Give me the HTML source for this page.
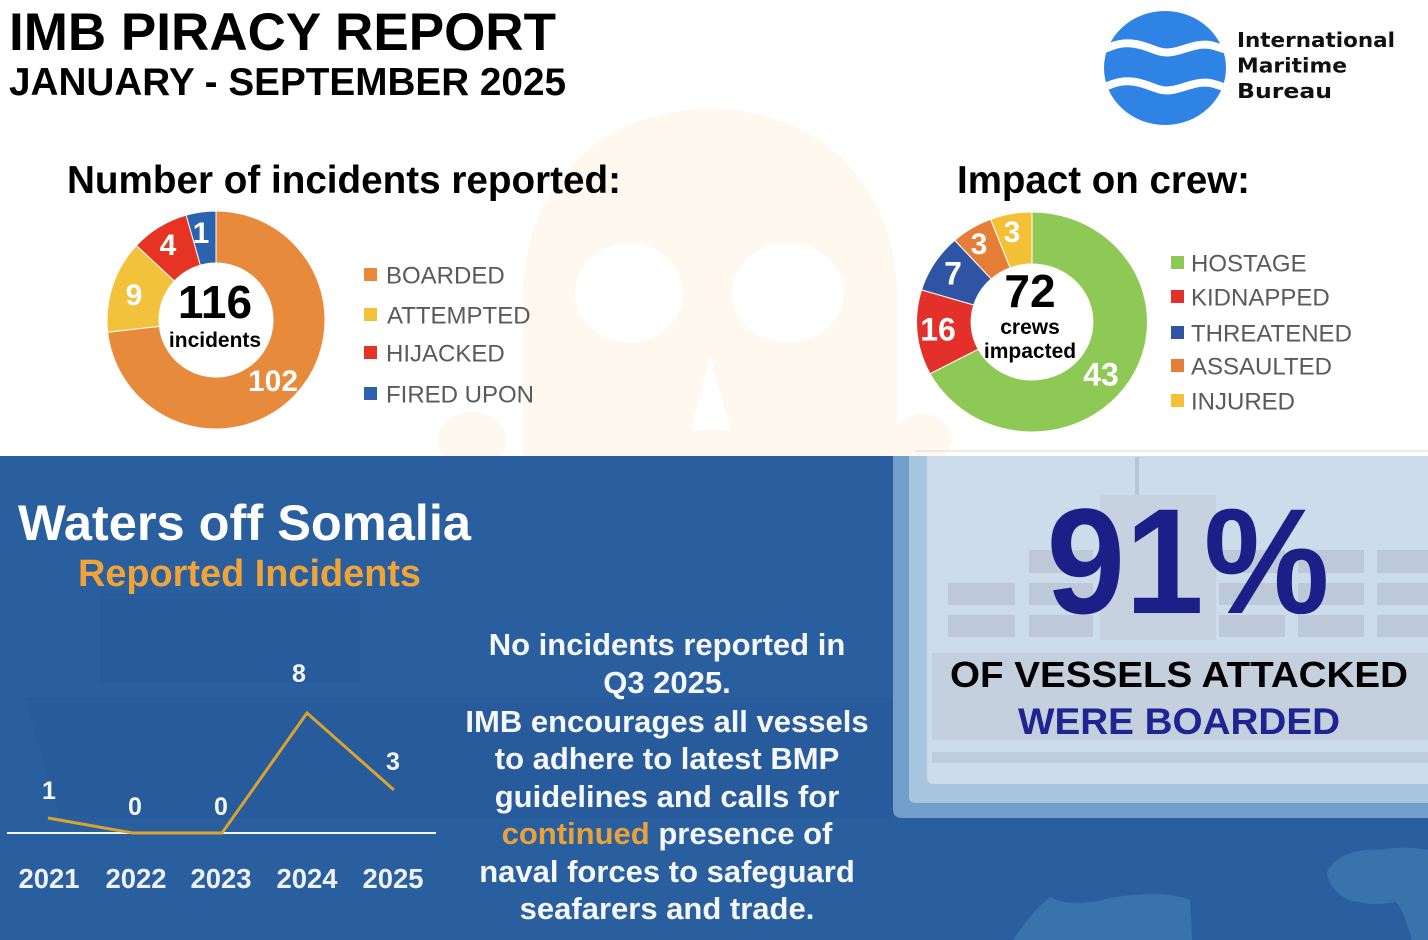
<!DOCTYPE html>
<html><head><meta charset="utf-8"><style>
html,body{margin:0;padding:0;background:#fff;}
svg{display:block;}
text{font-family:"Liberation Sans",Arial,sans-serif;}
</style></head><body>
<svg width="1428" height="940" viewBox="0 0 1428 940" xmlns="http://www.w3.org/2000/svg">
<defs>
<clipPath id="logoClip"><ellipse cx="1165" cy="68" rx="61" ry="57"/></clipPath>
</defs>
<!-- top white -->
<rect x="0" y="0" width="1428" height="456" fill="#ffffff"/>
<!-- skull watermark -->
<g fill="#fef8ef">
<path d="M523,300 C523,175 610,109 710,109 C810,109 897,175 897,300 L897,456 L523,456 Z"/>
<ellipse cx="472" cy="440" rx="34" ry="28"/>
<ellipse cx="922" cy="440" rx="30" ry="26"/>
</g>
<g fill="#ffffff">
<ellipse cx="629" cy="293" rx="54" ry="50"/>
<ellipse cx="788" cy="293" rx="56" ry="50"/>
<path d="M710,356 L731,430 L691,430 Z"/>
</g>
<line x1="915" y1="451" x2="1428" y2="451" stroke="#e6e6e6" stroke-width="1.5"/>

<!-- Title -->
<text x="9" y="50" font-size="53" font-weight="bold" fill="#000" textLength="547" lengthAdjust="spacingAndGlyphs">IMB PIRACY REPORT</text>
<text x="9" y="95" font-size="38.5" font-weight="bold" fill="#000" textLength="557" lengthAdjust="spacingAndGlyphs">JANUARY - SEPTEMBER 2025</text>

<!-- Logo -->
<g clip-path="url(#logoClip)">
<rect x="1100" y="8" width="135" height="125" fill="#2f83e4"/>
<path d="M1098,52 C1115,44 1125,41 1140,45 C1155,49 1160,54 1172,52 C1185,50 1195,43 1210,45 C1220,47 1226,51 1234,51" fill="none" stroke="#fff" stroke-width="8"/>
<path d="M1098,90 C1115,82 1125,79 1140,83 C1155,87 1160,92 1172,90 C1185,88 1195,81 1210,83 C1220,85 1226,89 1234,89" fill="none" stroke="#fff" stroke-width="8"/>
</g>
<g font-weight="bold" font-size="20" fill="#111">
<text x="1237" y="47" textLength="158" lengthAdjust="spacingAndGlyphs" style="font-family:'DejaVu Sans',sans-serif">International</text>
<text x="1237" y="72.5" textLength="110" lengthAdjust="spacingAndGlyphs" style="font-family:'DejaVu Sans',sans-serif">Maritime</text>
<text x="1237" y="98" textLength="95" lengthAdjust="spacingAndGlyphs" style="font-family:'DejaVu Sans',sans-serif">Bureau</text>
</g>

<!-- Headings -->
<text x="67" y="193" font-size="38.5" font-weight="bold" fill="#000" textLength="554" lengthAdjust="spacingAndGlyphs">Number of incidents reported:</text>
<text x="957" y="193" font-size="38.5" font-weight="bold" fill="#000" textLength="293" lengthAdjust="spacingAndGlyphs">Impact on crew:</text>

<!-- Donut 1 -->
<g stroke="#fff" stroke-width="1">
<path d="M216,211 A109,109 0 1 1 107.68,332.15 L159.36,326.35 A57,57 0 1 0 216,263 Z" fill="#e88a3c"/>
<path d="M107.68,332.15 A109,109 0 0 1 136.41,245.52 L174.38,281.05 A57,57 0 0 0 159.36,326.35 Z" fill="#f2c23a"/>
<path d="M136.41,245.52 A109,109 0 0 1 186.13,215.17 L200.38,265.18 A57,57 0 0 0 174.38,281.05 Z" fill="#e53424"/>
<path d="M186.13,215.17 A109,109 0 0 1 216,211 L216,263 A57,57 0 0 0 200.38,265.18 Z" fill="#2b63ae"/>
</g>
<g fill="#fff" font-size="30" font-weight="bold" text-anchor="middle">
<text x="201" y="243">1</text>
<text x="168" y="255">4</text>
<text x="134" y="305">9</text>
<text x="273" y="391">102</text>
</g>
<text x="215" y="318" font-size="46" font-weight="bold" text-anchor="middle" fill="#000">116</text>
<text x="215" y="347" font-size="21" font-weight="bold" text-anchor="middle" fill="#000">incidents</text>

<!-- Legend 1 -->
<g font-size="24" fill="#5a5a5a">
<rect x="364" y="268" width="13" height="13" fill="#e88a3c"/><text x="386" y="283.6">BOARDED</text>
<rect x="364" y="308" width="13" height="13" fill="#f2c23a"/><text x="387" y="323.6">ATTEMPTED</text>
<rect x="364" y="346" width="13" height="13" fill="#e53424"/><text x="386" y="361.6">HIJACKED</text>
<rect x="364" y="387" width="13" height="13" fill="#2b63ae"/><text x="386" y="402.6">FIRED UPON</text>
</g>

<!-- Donut 2 -->
<g transform="translate(1032,322) scale(1.05,1)" stroke="#fff" stroke-width="1">
<path d="M0,-110 A110,110 0 1 1 -97.12,51.64 L-51.21,27.23 A58,58 0 1 0 0,-58 Z" fill="#8fc955"/>
<path d="M-97.12,51.64 A110,110 0 0 1 -105.19,-32.16 L-55.47,-16.96 A58,58 0 0 0 -51.21,27.23 Z" fill="#e3302a"/>
<path d="M-105.19,-32.16 A110,110 0 0 1 -73.60,-81.74 L-38.81,-43.10 A58,58 0 0 0 -55.47,-16.96 Z" fill="#2f54a3"/>
<path d="M-73.60,-81.74 A110,110 0 0 1 -39.42,-102.70 L-20.79,-54.15 A58,58 0 0 0 -38.81,-43.10 Z" fill="#e57f38"/>
<path d="M-39.42,-102.70 A110,110 0 0 1 0,-110 L0,-58 A58,58 0 0 0 -20.79,-54.15 Z" fill="#f4c136"/>
</g>
<g fill="#fff" text-anchor="middle" font-weight="bold">
<text x="1012" y="242" font-size="30">3</text>
<text x="979" y="254" font-size="30">3</text>
<text x="953" y="284.5" font-size="32">7</text>
<text x="938" y="340.5" font-size="32">16</text>
<text x="1101" y="385.5" font-size="32">43</text>
</g>
<text x="1030" y="307" font-size="46" font-weight="bold" text-anchor="middle" fill="#000">72</text>
<text x="1030" y="334" font-size="21" font-weight="bold" text-anchor="middle" fill="#000">crews</text>
<text x="1030" y="358" font-size="21" font-weight="bold" text-anchor="middle" fill="#000">impacted</text>

<!-- Legend 2 -->
<g font-size="24" fill="#5a5a5a">
<rect x="1171" y="256" width="13" height="13" fill="#8fc955"/><text x="1191" y="271.6">HOSTAGE</text>
<rect x="1171" y="290" width="13" height="13" fill="#e3302a"/><text x="1191" y="305.6">KIDNAPPED</text>
<rect x="1171" y="326" width="13" height="13" fill="#2f54a3"/><text x="1191" y="341.6">THREATENED</text>
<rect x="1171" y="359" width="13" height="13" fill="#e57f38"/><text x="1191" y="374.6">ASSAULTED</text>
<rect x="1171" y="394" width="13" height="13" fill="#f4c136"/><text x="1191" y="409.6">INJURED</text>
</g>

<!-- Blue section -->
<rect x="0" y="456" width="1428" height="484" fill="#2a5f9f"/>
<!-- ship silhouette (subtle) -->
<g fill="#285b9b">
<rect x="100" y="593" width="260" height="90"/>
<path d="M25,697 L893,697 L893,817 L60,817 Z"/>
</g>
<!-- bottom right blobs -->
<g fill="#3973ac">
<path d="M1013,940 C1030,915 1040,905 1050,897 C1065,905 1085,905 1110,898 C1140,893 1170,892 1190,900 L1192,940 Z"/>
<path d="M1327,872 C1335,855 1360,848 1380,850 C1400,846 1420,848 1428,850 L1428,940 L1412,940 C1405,915 1400,905 1395,902 C1380,905 1360,905 1345,898 C1335,892 1328,882 1327,872 Z"/>
</g>

<!-- Right panel -->
<path d="M893,456 H1428 V818 H902 Q893,818 893,809 Z" fill="#719fc9"/>
<path d="M909,456 H1428 V803 H916 Q909,803 909,796 Z" fill="#a8c5e0"/>
<path d="M927,456 H1428 V784 H934 Q927,784 927,777 Z" fill="#ccdcea"/>
<!-- ship in panel -->
<g fill="#bdc9d8">
<rect x="1029" y="550" width="64" height="23"/><rect x="1219" y="550" width="66" height="23"/><rect x="1298" y="550" width="66" height="23"/><rect x="1377" y="550" width="51" height="23"/>
<rect x="948" y="583" width="67" height="22"/><rect x="1029" y="583" width="64" height="22"/><rect x="1219" y="583" width="66" height="22"/><rect x="1298" y="583" width="66" height="22"/><rect x="1377" y="583" width="51" height="22"/>
<rect x="948" y="615" width="67" height="22"/><rect x="1029" y="615" width="64" height="22"/><rect x="1219" y="615" width="66" height="22"/><rect x="1298" y="615" width="66" height="22"/><rect x="1377" y="615" width="51" height="22"/>
</g>
<rect x="1100" y="495" width="116" height="145" fill="#c6d2e0"/>
<rect x="1135" y="457" width="4" height="38" fill="#b8c5d5"/>
<rect x="932" y="653" width="496" height="87" fill="#c4d0dd"/>
<rect x="932" y="752" width="496" height="11" fill="#c0ccda"/>

<text x="1188" y="613" font-size="150" font-weight="bold" text-anchor="middle" fill="#1c1f87" textLength="283" lengthAdjust="spacingAndGlyphs">91%</text>
<text x="1179" y="687" font-size="36" font-weight="bold" text-anchor="middle" fill="#000" textLength="458" lengthAdjust="spacingAndGlyphs">OF VESSELS ATTACKED</text>
<text x="1179" y="734" font-size="37" font-weight="bold" text-anchor="middle" fill="#1f2492" textLength="322" lengthAdjust="spacingAndGlyphs">WERE BOARDED</text>

<!-- Left blue texts -->
<text x="18" y="540" font-size="50" font-weight="bold" fill="#fff" textLength="453" lengthAdjust="spacingAndGlyphs">Waters off Somalia</text>
<text x="78" y="586" font-size="38" font-weight="bold" fill="#f0a336" textLength="343" lengthAdjust="spacingAndGlyphs">Reported Incidents</text>

<!-- line chart -->
<line x1="7" y1="833" x2="436" y2="833" stroke="#f2f5f9" stroke-width="2"/>
<polyline points="48,818 133,833 222,833 307,713 394,790" fill="none" stroke="#d9a32f" stroke-width="3" stroke-linejoin="miter"/>
<g fill="#f4f6f9" font-size="25" font-weight="bold" text-anchor="middle">
<text x="49" y="799">1</text>
<text x="135" y="815">0</text>
<text x="221" y="815">0</text>
<text x="299" y="682">8</text>
<text x="393" y="770">3</text>
</g>
<g fill="#eef2f7" font-size="28" font-weight="bold" text-anchor="middle">
<text x="49" y="888" textLength="61" lengthAdjust="spacingAndGlyphs">2021</text>
<text x="136" y="888" textLength="61" lengthAdjust="spacingAndGlyphs">2022</text>
<text x="221" y="888" textLength="61" lengthAdjust="spacingAndGlyphs">2023</text>
<text x="307" y="888" textLength="61" lengthAdjust="spacingAndGlyphs">2024</text>
<text x="393" y="888" textLength="61" lengthAdjust="spacingAndGlyphs">2025</text>
</g>

<!-- middle paragraph -->
<g fill="#f5f7fa" font-size="31" font-weight="bold" text-anchor="middle">
<text x="667" y="655">No incidents reported in</text>
<text x="667" y="693">Q3 2025.</text>
<text x="667" y="732">IMB encourages all vessels</text>
<text x="667" y="769">to adhere to latest BMP</text>
<text x="667" y="807">guidelines and calls for</text>
<text x="667" y="844"><tspan fill="#e9a23b">continued</tspan> presence of</text>
<text x="667" y="882">naval forces to safeguard</text>
<text x="667" y="919">seafarers and trade.</text>
</g>
</svg>
</body></html>
